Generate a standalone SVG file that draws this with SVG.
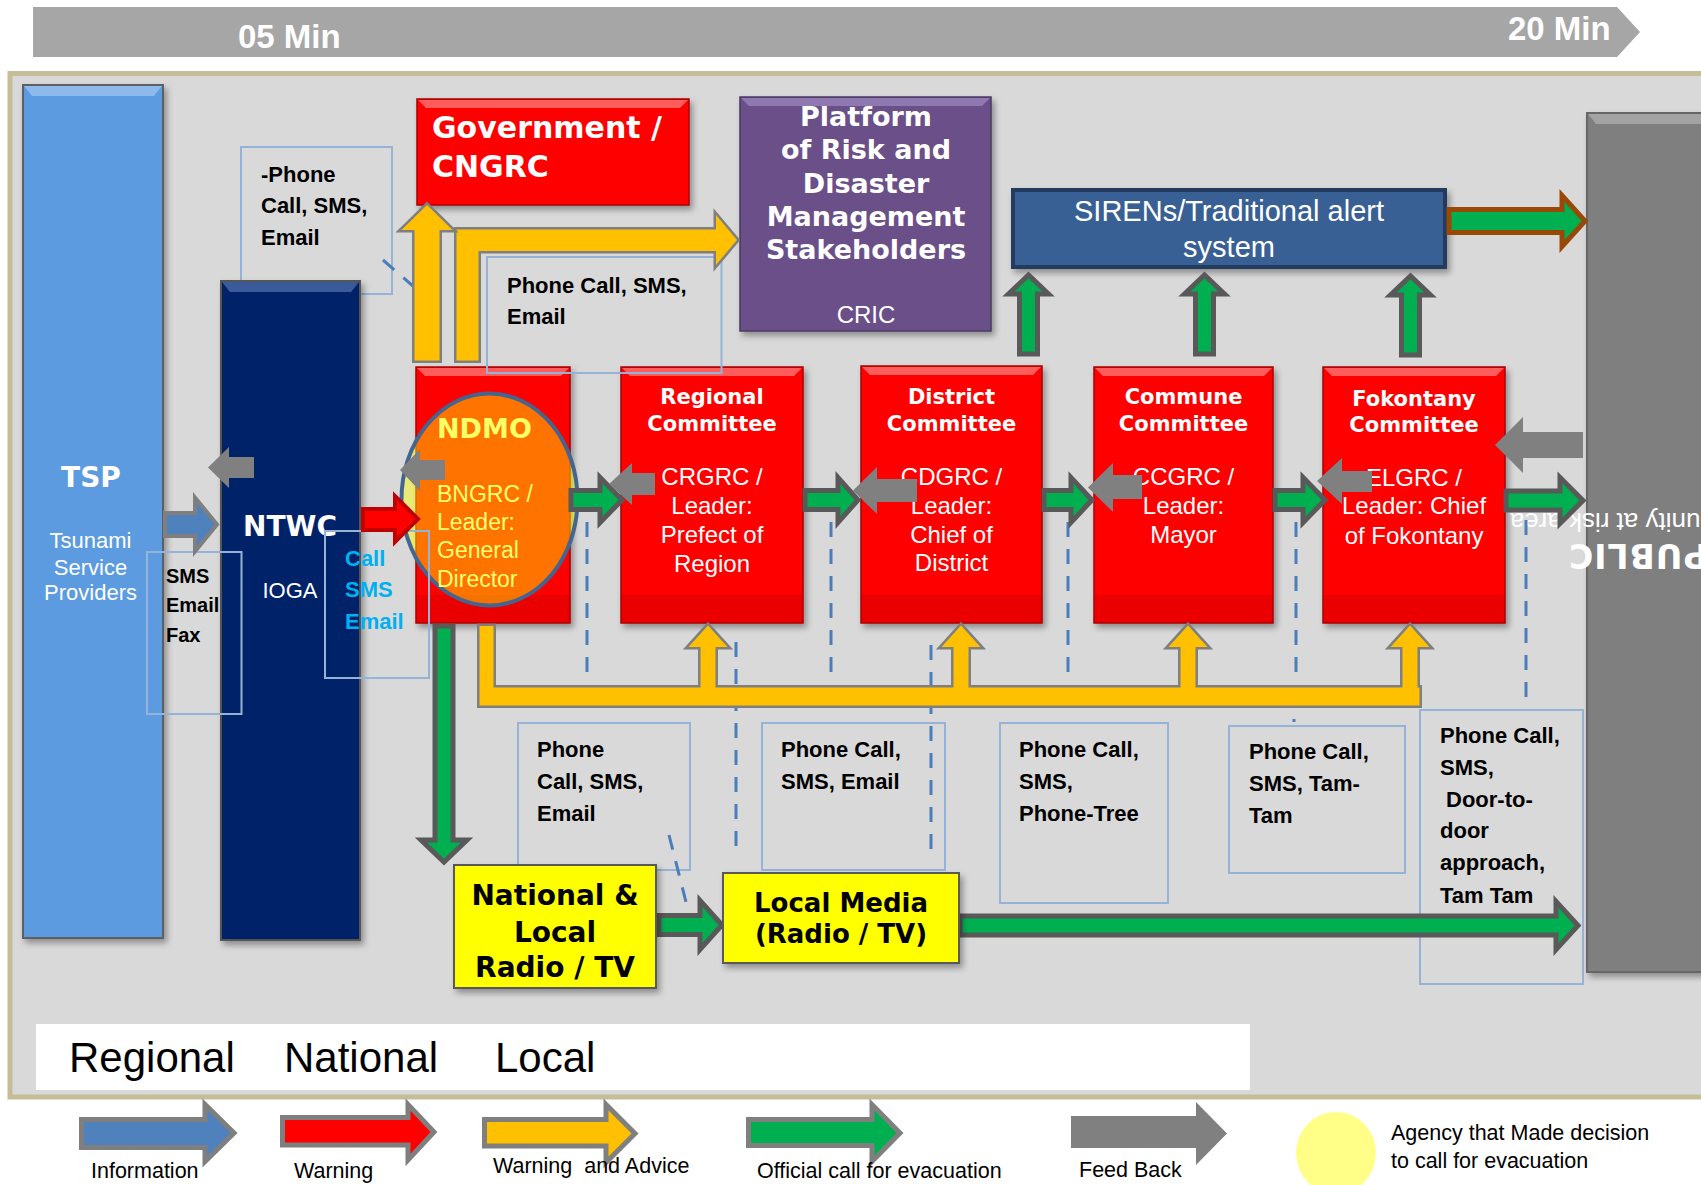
<svg xmlns="http://www.w3.org/2000/svg" xmlns:xlink="http://www.w3.org/1999/xlink" width="1701" height="1185" viewBox="0 0 1701 1185">
<defs>
<style>
.tb{fill:none;stroke:#95B3D7;stroke-width:2}
.dash{fill:none;stroke:#4A7EBB;stroke-width:3;stroke-dasharray:15 12}
.ga{fill:#00B050;stroke:#595959;stroke-width:5}
.fb{fill:#808080}
.ys{fill:none;stroke:#7F7F7F;stroke-width:5}
.yf{fill:#FFC000;stroke:none}
.rbox{fill:#FF0000;stroke:#A80000;stroke-width:1.5}
.rbev{fill:#FF5C5C}
.rbot{fill:#EA0000}
.ttl{font-family:"DejaVu Sans",sans-serif;font-weight:bold;fill:#FFFFFF}
.ct{font-family:"DejaVu Sans",sans-serif;font-weight:bold;fill:#FFFFFF;font-size:21px;text-anchor:middle}
.cb{font-family:"Liberation Sans",Arial,sans-serif;fill:#FFFFFF;font-size:24px;text-anchor:middle}
.call{font-family:"Liberation Sans",Arial,sans-serif;font-weight:bold;font-size:22px;fill:#000000}
.leg{font-family:"Liberation Sans",Arial,sans-serif;font-size:21.5px;fill:#000000}
.med{font-family:"DejaVu Sans",sans-serif;font-weight:bold;fill:#000000;text-anchor:middle}
</style>
<filter id="sh" x="-10%" y="-10%" width="130%" height="130%">
<feDropShadow dx="3" dy="4" stdDeviation="3" flood-color="#000" flood-opacity="0.35"/>
</filter>
<path id="yL" d="M456.5,360.5 V229.5 H716 V215 L737,240 L716,265 V251 H478.5 V360.5 Z"/>
<path id="yV" d="M414.5,360.5 V230 H401.5 L427,205 L452.5,230 H439.5 V360.5 Z"/>
<path id="yBar" d="M479.5,626 V705.5 H1419.5 V687.5 H493.5 V626 Z"/>
<path id="yU1" d="M700.5,690 V647 H688.5 L708,625.5 L727.5,647 H715.5 V690 Z"/>
<path id="yU2" d="M953.5,690 V647 H941.5 L961,625.5 L980.5,647 H968.5 V690 Z"/>
<path id="yU3" d="M1180.5,690 V647 H1168.5 L1188,625.5 L1207.5,647 H1195.5 V690 Z"/>
<path id="yU4" d="M1402.5,690 V647 H1390.5 L1410,625.5 L1429.5,647 H1417.5 V690 Z"/>
</defs>

<rect x="0" y="0" width="1701" height="1185" fill="#FFFFFF"/>

<!-- timeline bar -->
<g id="timeline">
<polygon points="33,7 1617,7 1640,32 1617,57 33,57" fill="#A6A6A6"/>
<text x="238" y="48" font-family="Liberation Sans, Arial, sans-serif" font-weight="bold" font-size="33" fill="#FFFFFF">05 Min</text>
<text x="1508" y="40" font-family="Liberation Sans, Arial, sans-serif" font-weight="bold" font-size="33" fill="#FFFFFF">20 Min</text>
</g>

<!-- main panel -->
<rect id="panel" x="10" y="73.5" width="1720" height="1023.5" fill="#D9D9D9" stroke="#C4BD97" stroke-width="5"/>

<!-- scale strip -->
<g id="scale">
<rect x="36" y="1024" width="1214" height="66" fill="#FFFFFF"/>
<text x="69" y="1072" font-family="Liberation Sans, Arial, sans-serif" font-size="42" fill="#000">Regional</text>
<text x="284" y="1072" font-family="Liberation Sans, Arial, sans-serif" font-size="42" fill="#000">National</text>
<text x="495" y="1072" font-family="Liberation Sans, Arial, sans-serif" font-size="42" fill="#000">Local</text>
</g>

<!-- TSP -->
<g id="tsp">
<rect x="23" y="85" width="140" height="853" fill="#5B9BDF" stroke="#5F5F5F" stroke-width="2" filter="url(#sh)"/>
<polygon points="24,86 162,86 154,96 32,96" fill="#8DB9EC"/>
<text x="91" y="487" class="ttl" font-size="28" text-anchor="middle">TSP</text>
<text x="90.5" y="548" class="cb" style="font-size:22px">Tsunami</text>
<text x="90.5" y="575" class="cb" style="font-size:22px">Service</text>
<text x="90.5" y="600" class="cb" style="font-size:22px">Providers</text>
</g>

<!-- text box behind NTWC -->
<g id="note-top-left">
<rect class="tb" x="241" y="147" width="151" height="147"/>
<text class="call" x="261" y="182">-Phone</text>
<text class="call" x="261" y="213">Call, SMS,</text>
<text class="call" x="261" y="245">Email</text>
</g>

<!-- NTWC -->
<g id="ntwc">
<rect x="221" y="281" width="139" height="659" fill="#062468" stroke="#555555" stroke-width="2" filter="url(#sh)"/>
<polygon points="222,282 359,282 351,292 230,292" fill="#3A5A9A"/>
<text x="243" y="536" class="ttl" font-size="28">NTWC</text>
<text x="290" y="598" class="cb" style="font-size:22px">IOGA</text>
</g>

<!-- PUBLIC -->
<g id="public">
<rect x="1587" y="113" width="140" height="859" fill="#7F7F7F" stroke="#666666" stroke-width="2" filter="url(#sh)"/>
<polygon points="1588,114 1726,114 1726,124 1596,124" fill="#A3A3A3"/>
<text transform="translate(1777,513) rotate(180)" x="0" y="0" font-family="Liberation Sans, Arial, sans-serif" font-size="26" fill="#FFFFFF">Community at risk area</text>
<text transform="translate(1568,544) rotate(180)" x="0" y="0" text-anchor="end" font-family="DejaVu Sans, sans-serif" font-weight="900" font-size="33" letter-spacing="1" fill="#FFFFFF">PUBLIC</text>
</g>

<!-- Government -->
<g id="gov">
<rect class="rbox" x="417" y="99" width="272" height="106" filter="url(#sh)"/>
<polygon class="rbev" points="418,100 688,100 680,108 426,108"/>
<text x="432" y="138" class="ttl" font-size="30">Government /</text>
<text x="432" y="177" class="ttl" font-size="30">CNGRC</text>
</g>

<!-- Platform -->
<g id="platform">
<rect x="740" y="97" width="251" height="234" fill="#6A4F89" stroke="#4A3A63" stroke-width="1.5" filter="url(#sh)"/>
<polygon points="741,98 990,98 982,106 749,106" fill="#9079B0"/>
<text x="866" y="126" class="ttl" font-size="27" text-anchor="middle">Platform</text>
<text x="866" y="159" class="ttl" font-size="27" text-anchor="middle">of Risk and</text>
<text x="866" y="193" class="ttl" font-size="27" text-anchor="middle">Disaster</text>
<text x="866" y="226" class="ttl" font-size="27" text-anchor="middle">Management</text>
<text x="866" y="259" class="ttl" font-size="27" text-anchor="middle">Stakeholders</text>
<text x="866" y="323" class="cb">CRIC</text>
</g>

<!-- SIRENs -->
<g id="sirens">
<rect x="1013" y="190" width="432" height="77" fill="#386194" stroke="#213B5E" stroke-width="4" filter="url(#sh)"/>
<text x="1229" y="221" class="cb" style="font-size:29px">SIRENs/Traditional alert</text>
<text x="1229" y="257" class="cb" style="font-size:29px">system</text>
</g>

<!-- NDMO -->
<g id="ndmo">
<rect class="rbox" x="416" y="367" width="154" height="256" filter="url(#sh)"/>
<polygon class="rbev" points="417,368 569,368 561,376 425,376"/>
<rect class="rbot" x="417" y="595" width="152" height="27"/>
<ellipse cx="489.5" cy="499.5" rx="88" ry="106" fill="#FFFF00" fill-opacity="0.45" stroke="#44658F" stroke-width="4"/>
<text x="437" y="438" font-family="DejaVu Sans, sans-serif" font-weight="bold" font-size="27" fill="#FFFF66">NDMO</text>
<g font-family="Liberation Sans, Arial, sans-serif" font-size="23" fill="#FFFF70">
<text x="437" y="502">BNGRC /</text>
<text x="437" y="530">Leader:</text>
<text x="437" y="558">General</text>
<text x="437" y="587">Director</text>
</g>
</g>

<!-- Regional -->
<g id="regional">
<rect class="rbox" x="621" y="367" width="182" height="256" filter="url(#sh)"/>
<polygon class="rbev" points="622,368 802,368 794,376 630,376"/>
<rect class="rbot" x="622" y="595" width="180" height="27"/>
<text class="ct" x="712" y="404">Regional</text>
<text class="ct" x="712" y="431">Committee</text>
<text class="cb" x="712" y="485">CRGRC /</text>
<text class="cb" x="712" y="514">Leader:</text>
<text class="cb" x="712" y="543">Prefect of</text>
<text class="cb" x="712" y="572">Region</text>
</g>

<!-- District -->
<g id="district">
<rect class="rbox" x="861" y="366" width="181" height="257" filter="url(#sh)"/>
<polygon class="rbev" points="862,367 1041,367 1033,375 870,375"/>
<rect class="rbot" x="862" y="595" width="179" height="27"/>
<text class="ct" x="951.5" y="404">District</text>
<text class="ct" x="951.5" y="431">Committee</text>
<text class="cb" x="951.5" y="485">CDGRC /</text>
<text class="cb" x="951.5" y="514">Leader:</text>
<text class="cb" x="951.5" y="543">Chief of</text>
<text class="cb" x="951.5" y="571">District</text>
</g>

<!-- Commune -->
<g id="commune">
<rect class="rbox" x="1094" y="367" width="179" height="256" filter="url(#sh)"/>
<polygon class="rbev" points="1095,368 1272,368 1264,376 1103,376"/>
<rect class="rbot" x="1095" y="595" width="177" height="27"/>
<text class="ct" x="1183.5" y="404">Commune</text>
<text class="ct" x="1183.5" y="431">Committee</text>
<text class="cb" x="1183.5" y="485">CCGRC /</text>
<text class="cb" x="1183.5" y="514">Leader:</text>
<text class="cb" x="1183.5" y="543">Mayor</text>
</g>

<!-- Fokontany -->
<g id="fokontany">
<rect class="rbox" x="1323" y="367" width="182" height="256" filter="url(#sh)"/>
<polygon class="rbev" points="1324,368 1504,368 1496,376 1332,376"/>
<rect class="rbot" x="1324" y="595" width="180" height="27"/>
<text class="ct" x="1414" y="406">Fokontany</text>
<text class="ct" x="1414" y="432">Committee</text>
<text class="cb" x="1414" y="486">ELGRC /</text>
<text class="cb" x="1414" y="514">Leader: Chief</text>
<text class="cb" x="1414" y="544">of Fokontany</text>
</g>

<!-- text boxes -->
<g id="note-tsp">
<rect class="tb" x="147" y="552" width="94.5" height="162"/>
<g font-family="Liberation Sans, Arial, sans-serif" font-weight="bold" font-size="20" fill="#000">
<text x="166" y="583">SMS</text>
<text x="166" y="612">Email</text>
<text x="166" y="642">Fax</text>
</g>
</g>
<g id="note-ntwc">
<rect class="tb" x="325" y="531" width="104" height="147"/>
<g font-family="Liberation Sans, Arial, sans-serif" font-weight="bold" font-size="22" fill="#00B0F0">
<text x="345" y="566">Call</text>
<text x="345" y="597">SMS</text>
<text x="345" y="629">Email</text>
</g>
</g>
<g id="note-platform">
<rect class="tb" x="487" y="257" width="234.5" height="116"/>
<text class="call" x="507" y="293">Phone Call, SMS,</text>
<text class="call" x="507" y="324">Email</text>
</g>
<g id="note-regional">
<rect class="tb" x="518" y="723" width="172" height="147"/>
<text class="call" x="537" y="757">Phone</text>
<text class="call" x="537" y="789">Call, SMS,</text>
<text class="call" x="537" y="821">Email</text>
</g>
<g id="note-district">
<rect class="tb" x="762" y="723" width="183" height="147"/>
<text class="call" x="781" y="757">Phone Call,</text>
<text class="call" x="781" y="789">SMS, Email</text>
</g>
<g id="note-commune">
<rect class="tb" x="1000" y="723" width="168" height="180"/>
<text class="call" x="1019" y="757">Phone Call,</text>
<text class="call" x="1019" y="789">SMS,</text>
<text class="call" x="1019" y="821">Phone-Tree</text>
</g>
<g id="note-fokontany">
<rect class="tb" x="1229" y="726" width="176" height="147"/>
<text class="call" x="1249" y="759">Phone Call,</text>
<text class="call" x="1249" y="791">SMS, Tam-</text>
<text class="call" x="1249" y="823">Tam</text>
</g>
<g id="note-public">
<rect class="tb" x="1420" y="710" width="163" height="274"/>
<text class="call" x="1440" y="743">Phone Call,</text>
<text class="call" x="1440" y="775">SMS,</text>
<text class="call" x="1446" y="807">Door-to-</text>
<text class="call" x="1440" y="838">door</text>
<text class="call" x="1440" y="870">approach,</text>
<text class="call" x="1440" y="903">Tam Tam</text>
</g>

<!-- connectors -->
<g id="connectors">
<g id="dashed">
<line class="dash" x1="383" y1="260" x2="414" y2="287"/>
<line class="dash" x1="587" y1="522" x2="587" y2="680"/>
<line class="dash" x1="736" y1="642" x2="736" y2="855"/>
<line class="dash" x1="831" y1="522" x2="831" y2="683"/>
<line class="dash" x1="931" y1="645" x2="931" y2="858"/>
<line class="dash" x1="1068" y1="522" x2="1068" y2="680"/>
<line class="dash" x1="1296" y1="522" x2="1296" y2="682"/>
<line class="dash" x1="1294" y1="719" x2="1294" y2="722"/>
<line class="dash" x1="1526" y1="520" x2="1526" y2="705"/>
<line class="dash" x1="669" y1="835" x2="686" y2="902"/>
</g>

<!-- yellow warning & advice network -->
<g id="yellow">
<use xlink:href="#yL" class="ys"/><use xlink:href="#yL" class="yf"/>
<use xlink:href="#yV" class="ys"/><use xlink:href="#yV" class="yf"/>
<use xlink:href="#yBar" class="ys"/>
<use xlink:href="#yU1" class="ys"/><use xlink:href="#yU2" class="ys"/><use xlink:href="#yU3" class="ys"/><use xlink:href="#yU4" class="ys"/>
<use xlink:href="#yBar" class="yf"/>
<use xlink:href="#yU1" class="yf"/><use xlink:href="#yU2" class="yf"/><use xlink:href="#yU3" class="yf"/><use xlink:href="#yU4" class="yf"/>
</g>

<!-- information / warning -->
<path d="M165,513 H195 V497.5 L217,524.5 L195,551.5 V536 H165 Z" fill="#4F81BD" stroke="#7F7F7F" stroke-width="4"/>
<path d="M363,509 H395 V496 L418,519 L395,542 V530 H363 Z" fill="#FF0000" stroke="#C00000" stroke-width="4"/>

<!-- green evacuation -->
<path class="ga" d="M571,490.5 H600 V477.5 L622,500 L600,522.5 V509.5 H571 Z"/>
<path class="ga" d="M805,490.5 H838 V477.5 L858,500 L838,522.5 V509.5 H805 Z"/>
<path class="ga" d="M1044,490.5 H1071 V477.5 L1092,500 L1071,522.5 V509.5 H1044 Z"/>
<path class="ga" d="M1275,490.5 H1303 V477.5 L1325,500 L1303,522.5 V509.5 H1275 Z"/>
<path class="ga" d="M1506,491 H1560 V477.5 L1583,500.5 L1560,523.5 V510 H1506 Z"/>
<path class="ga" d="M1019.5,354 V294 H1008.5 L1028.5,275 L1048.5,294 H1037.5 V354 Z"/>
<path class="ga" d="M1195.5,354 V294 H1184.5 L1204.5,275 L1224.5,294 H1213.5 V354 Z"/>
<path class="ga" d="M1401.5,355 V295 H1390.5 L1410.5,276 L1430.5,295 H1419.5 V355 Z"/>
<path class="ga" d="M435,626 V840 H421 L444,862 L467,840 H453 V626 Z"/>
<path class="ga" d="M659,915.5 H700 V900.5 L722,925 L700,949.5 V934.5 H659 Z"/>
<path class="ga" d="M960,916 H1556 V901.5 L1578,925.5 L1556,949.5 V935 H960 Z"/>
<path d="M1449,209.5 H1562 V195.5 L1585,221 L1562,246.5 V232.5 H1449 Z" fill="#00B050" stroke="#984807" stroke-width="5"/>

<!-- feedback -->
<path class="fb" d="M254,457 H229 V447 L208,467.5 L229,488 V478 H254 Z"/>
<path class="fb" d="M445,460 H420 V449 L400,470 L420,491 V480 H445 Z"/>
<path class="fb" d="M655,473 H632 V463 L609,484 L632,505 V495 H655 Z"/>
<path class="fb" d="M917,479 H877 V467 L853,490.5 L877,514 V502 H917 Z"/>
<path class="fb" d="M1142,475 H1113 V463 L1088,487.5 L1113,512 V499 H1142 Z"/>
<path class="fb" d="M1372,471 H1342 V458 L1317,481 L1342,504 V492 H1372 Z"/>
<path class="fb" d="M1583,432 H1523 V417 L1495,445 L1523,473 V458 H1583 Z"/>
</g>

<!-- media -->
<g id="national-radio">
<rect x="454" y="865" width="202" height="123" fill="#FFFF00" stroke="#595959" stroke-width="2" filter="url(#sh)"/>
<text class="med" x="555" y="905" font-size="28">National &amp;</text>
<text class="med" x="555" y="942" font-size="28">Local</text>
<text class="med" x="555" y="977" font-size="28">Radio / TV</text>
</g>
<g id="local-media">
<rect x="723" y="873" width="236" height="90" fill="#FFFF00" stroke="#595959" stroke-width="2" filter="url(#sh)"/>
<text class="med" x="841" y="912" font-size="26">Local Media</text>
<text class="med" x="841" y="943" font-size="26">(Radio / TV)</text>
</g>

<!-- legend -->
<g id="legend">
<path d="M81.5,1119.5 H205 V1104.5 L234,1133 L205,1161.5 V1147.5 H81.5 Z" fill="#4F81BD" stroke="#7F7F7F" stroke-width="5"/>
<path d="M282.5,1117.5 H408 V1104.5 L434,1132 L408,1160 V1145 H282.5 Z" fill="#FF0000" stroke="#7F7F7F" stroke-width="5"/>
<path d="M484.5,1119.5 H606 V1104.5 L635,1133.5 L606,1162.5 V1146 H484.5 Z" fill="#FFC000" stroke="#7F7F7F" stroke-width="5"/>
<path d="M748.5,1119.5 H872 V1104.5 L900,1133 L872,1161.5 V1145.5 H748.5 Z" fill="#00B050" stroke="#7F7F7F" stroke-width="5"/>
<path class="fb" d="M1071,1116 H1196 V1102 L1227,1133.5 L1196,1165 V1148 H1071 Z"/>
<ellipse cx="1336" cy="1153" rx="40" ry="41" fill="#FFFF88"/>
<text class="leg" x="91" y="1178">Information</text>
<text class="leg" x="294" y="1178">Warning</text>
<text class="leg" x="493" y="1173">Warning&#160; and Advice</text>
<text class="leg" x="757" y="1178">Official call for evacuation</text>
<text class="leg" x="1079" y="1177">Feed Back</text>
<text class="leg" x="1391" y="1140">Agency that Made decision</text>
<text class="leg" x="1391" y="1168">to call for evacuation</text>
</g>
</svg>
